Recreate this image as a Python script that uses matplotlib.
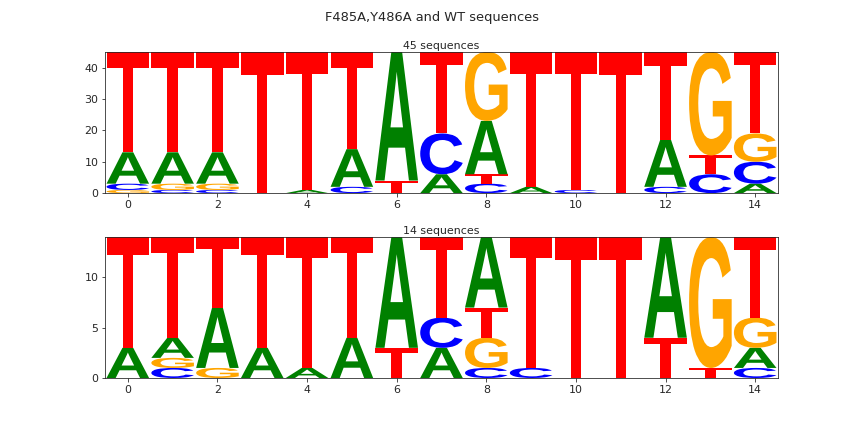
import matplotlib
matplotlib.use("Agg")
import matplotlib.pyplot as plt
import seaborn as sns
from matplotlib.textpath import TextPath
from matplotlib.patches import PathPatch
from matplotlib.font_manager import FontProperties
from matplotlib.transforms import Affine2D

letters = ["A", "C", "G", "T"]
colors = {"A": "green", "C": "blue", "G": "orange", "T": "red"}

# counts per position: A, C, G, T
top_A = [10, 10, 10, 0, 1, 12, 41, 6, 17, 2, 0, 0, 15, 0, 3]
top_C = [2, 1, 1, 0, 0, 2, 0, 13, 3, 0, 1, 0, 2, 6, 7]
top_G = [1, 2, 2, 0, 0, 0, 0, 0, 22, 0, 0, 0, 0, 33, 9]
top_T = [32, 32, 32, 45, 44, 31, 4, 26, 3, 43, 44, 45, 28, 6, 26]

bot_A = [3, 2, 6, 3, 1, 4, 11, 3, 7, 0, 0, 0, 10, 0, 2]
bot_C = [0, 1, 0, 0, 0, 0, 0, 3, 1, 1, 0, 0, 0, 0, 1]
bot_G = [0, 1, 1, 0, 0, 0, 0, 0, 3, 0, 0, 0, 0, 13, 3]
bot_T = [11, 10, 7, 11, 13, 10, 3, 8, 3, 13, 14, 14, 4, 1, 8]

sns.set_style("ticks")
plt.rcParams['font.family'] = ['DejaVu Sans']

prop = FontProperties(family="Liberation Sans", weight="bold")
glyphs = {}
for L in letters:
    p = TextPath((0, 0), L, size=1, prop=prop)
    glyphs[L] = p

def draw_letter(ax, L, x, y0, h, w=0.95):
    p = glyphs[L]
    ext = p.get_extents()
    t = (Affine2D().translate(-ext.x0, -ext.y0)
         .scale(w / ext.width, h / ext.height)
         .translate(x - w / 2, y0))
    ax.add_patch(PathPatch(t.transform_path(p), facecolor=colors[L], edgecolor="none"))

def logo(ax, A, C, G, T, ymax, yticks, title):
    for i in range(len(A)):
        vals = sorted(zip([A[i], C[i], G[i], T[i]], letters), key=lambda v: v[0])
        y = 0
        for v, L in vals:
            if v > 0:
                draw_letter(ax, L, i, y, v)
                y += v
    ax.set_xlim(-0.5, len(A) - 0.5)
    ax.set_ylim(0, ymax)
    ax.set_xticks(range(0, 15, 2))
    ax.set_yticks(yticks)
    ax.set_title(title, fontsize=11, pad=3)

fig = plt.figure(figsize=(12, 6), dpi=72)
ax1 = fig.add_axes([0.122, 0.553, 0.778, 0.327])
ax2 = fig.add_axes([0.122, 0.125, 0.778, 0.326])
logo(ax1, top_A, top_C, top_G, top_T, 45, [0, 10, 20, 30, 40], "45 sequences")
logo(ax2, bot_A, bot_C, bot_G, bot_T, 14, [0, 5, 10], "14 sequences")
for ax in (ax1, ax2):
    ax.tick_params(labelsize=11)
fig.suptitle("F485A,Y486A and WT sequences", fontsize=13, y=0.975)
fig.savefig("out.png", dpi=72)
